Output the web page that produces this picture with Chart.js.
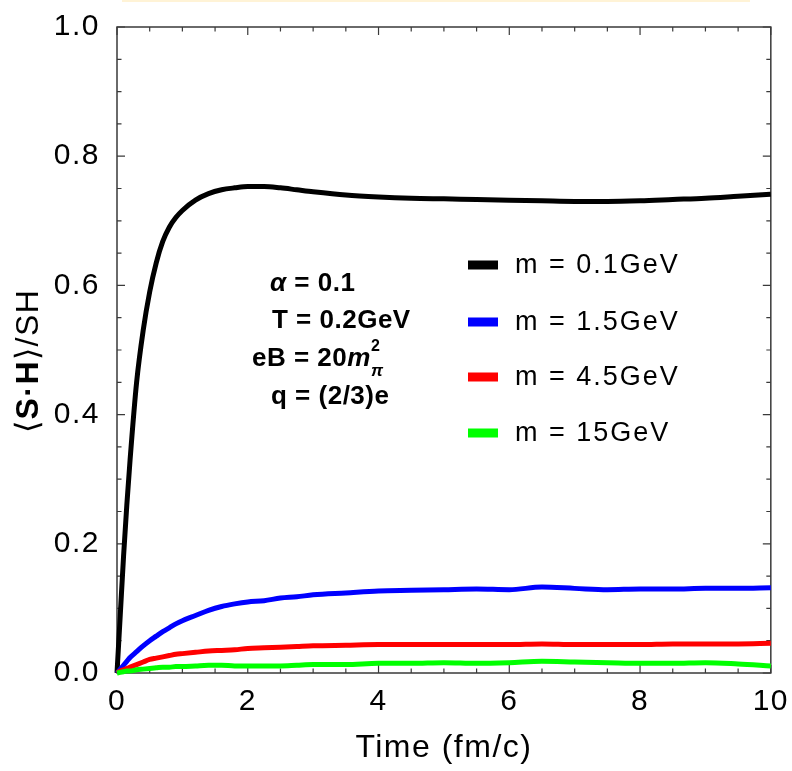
<!DOCTYPE html>
<html>
<head>
<meta charset="utf-8">
<script src="https://cdn.jsdelivr.net/npm/chart.js@4.4.0/dist/chart.umd.min.js"></script>
<style>
    html, body { margin: 0; padding: 0; background: #ffffff; }
    #wrap { width: 792px; height: 771px; }
</style>
</head>
<body>
<div id="wrap"><canvas id="spinChart" width="792" height="771"></canvas></div>
<script>
// time axis (fm/c)
const times = [0, 0.05, 0.1, 0.15, 0.2, 0.3, 0.4, 0.5, 0.6, 0.7, 0.8, 0.9, 1.0, 1.2, 1.4, 1.6, 1.8, 2.0,
    2.25, 2.5, 2.75, 3.0, 3.5, 4.0, 4.5, 5.0, 5.5, 6.0, 6.5, 7.0, 7.5, 8.0, 8.5, 9.0, 9.5, 10.0];

// <S.H>/SH for each mass
const m01Values = [0, 0.09, 0.18, 0.26, 0.33, 0.45, 0.53, 0.59, 0.635, 0.668, 0.69, 0.705, 0.716, 0.732, 0.742, 0.748, 0.751, 0.753,
    0.753, 0.751, 0.748, 0.745, 0.740, 0.737, 0.735, 0.734, 0.733, 0.732, 0.731, 0.730, 0.730, 0.731, 0.733, 0.735, 0.738, 0.741];
const m15Values = [0, 0.006, 0.012, 0.018, 0.024, 0.033, 0.042, 0.050, 0.057, 0.064, 0.070, 0.076, 0.081, 0.089, 0.097, 0.103, 0.107, 0.110,
    0.112, 0.116, 0.118, 0.121, 0.124, 0.127, 0.128, 0.129, 0.130, 0.129, 0.133, 0.131, 0.129, 0.130, 0.130, 0.131, 0.131, 0.132];
const m45Values = [0, 0.003, 0.005, 0.007, 0.009, 0.013, 0.017, 0.021, 0.023, 0.025, 0.027, 0.029, 0.030, 0.032, 0.034, 0.035, 0.036, 0.038,
    0.039, 0.040, 0.041, 0.042, 0.043, 0.044, 0.044, 0.044, 0.044, 0.044, 0.045, 0.044, 0.044, 0.044, 0.045, 0.045, 0.045, 0.046];
const m150Values = [0, 0.001, 0.002, 0.003, 0.003, 0.005, 0.006, 0.007, 0.008, 0.009, 0.009, 0.010, 0.010, 0.011, 0.012, 0.012, 0.011, 0.011,
    0.011, 0.011, 0.012, 0.013, 0.013, 0.015, 0.015, 0.016, 0.015, 0.016, 0.018, 0.017, 0.016, 0.015, 0.015, 0.016, 0.014, 0.011];

const seriesLabels = ['m = 0.1GeV', 'm = 1.5GeV', 'm = 4.5GeV', 'm = 15GeV'];
const seriesColors = ['#000000', '#0000ff', '#ff0000', '#00ff00'];
const seriesValues = [m01Values, m15Values, m45Values, m150Values];

// parameter box text
const paramLines = [' = 0.1', 'T = 0.2GeV', 'eB = 20', 'q = (2/3)e'];

const xTickLabels = ['0', '2', '4', '6', '8', '10'];
const yTickLabels = ['0.0', '0.2', '0.4', '0.6', '0.8', '1.0'];

const FONT = "'Liberation Sans', Arial, sans-serif";

// build datasets
const datasets = seriesValues.map((vals, i) => ({
    label: seriesLabels[i],
    data: times.map((t, k) => ({ x: t, y: vals[k] })),
    borderColor: seriesColors[i],
    backgroundColor: seriesColors[i],
    borderWidth: 5,
    pointRadius: 0,
    fill: false,
    cubicInterpolationMode: 'monotone',
    clip: 8,
    order: 3 - i
}));

// frame + inward ticks (Mathematica style)
const framePlugin = {
    id: 'frame',
    beforeUpdate(chart) {
        chart.ctx.letterSpacing = '1.5px';
    },
    beforeDatasetsDraw(chart) {
        const ctx = chart.ctx;
        const a = chart.chartArea;
        const xs = chart.scales.x, ys = chart.scales.y;
        ctx.save();
        ctx.strokeStyle = '#3a3a3a';
        ctx.lineWidth = 1.5;
        ctx.strokeRect(a.left, a.top, a.right - a.left, a.bottom - a.top);
        ctx.lineWidth = 1.2;
        ctx.beginPath();
        for (let v = 0; v <= 10.001; v += 0.5) {
            const px = xs.getPixelForValue(v);
            const len = (Math.abs(v / 2 - Math.round(v / 2)) < 0.01) ? 8 : 4.5;
            ctx.moveTo(px, a.bottom); ctx.lineTo(px, a.bottom - len);
            ctx.moveTo(px, a.top); ctx.lineTo(px, a.top + len);
        }
        for (let v = 0; v <= 1.0001; v += 0.05) {
            const py = ys.getPixelForValue(v);
            const len = (Math.abs(v / 0.2 - Math.round(v / 0.2)) < 0.01) ? 8 : 4.5;
            ctx.moveTo(a.left, py); ctx.lineTo(a.left + len, py);
            ctx.moveTo(a.right, py); ctx.lineTo(a.right - len, py);
        }
        ctx.stroke();
        ctx.restore();
    },
    afterDraw(chart) {
        const ctx = chart.ctx;
        ctx.save();

        // faint strip along the top edge
        ctx.fillStyle = '#fff3d6';
        ctx.fillRect(122, 0, 628, 2);

        // legend
        ctx.letterSpacing = '2px';
        ctx.font = '27px ' + FONT;
        ctx.textBaseline = 'middle';
        ctx.textAlign = 'left';
        const legendY = [265, 322, 377, 433];
        chart.data.datasets.forEach((ds, i) => {
            ctx.fillStyle = ds.borderColor;
            ctx.fillRect(468, legendY[i] - 4.5, 30, 9);
            ctx.fillStyle = '#000';
            ctx.fillText(ds.label, 515, legendY[i] + 1);
        });

        // parameters
        ctx.letterSpacing = '0.5px';
        ctx.font = 'italic bold 26px ' + FONT;
        ctx.fillText('α', 270, 284);
        const aw = ctx.measureText('α').width;
        ctx.font = 'bold 26px ' + FONT;
        ctx.fillText(paramLines[0], 270 + aw, 284);
        ctx.fillText(paramLines[1], 272, 321);
        ctx.fillText(paramLines[3], 271, 397);
        ctx.fillText(paramLines[2], 252, 359);
        const w = ctx.measureText(paramLines[2]).width;
        ctx.font = 'italic bold 26px ' + FONT;
        ctx.fillText('m', 252 + w, 359);
        const mw = ctx.measureText('m').width;
        ctx.font = 'bold 16px ' + FONT;
        ctx.fillText('2', 252 + w + mw, 347);
        ctx.font = 'italic bold 17px ' + FONT;
        ctx.fillText('π', 252 + w + mw, 371);

        // y-axis title, mixed weight
        ctx.translate(38, 433);
        ctx.rotate(-Math.PI / 2);
        ctx.textBaseline = 'alphabetic';
        ctx.letterSpacing = '1.5px';
        const parts = [['⟨', '32px ' + FONT], ['S·H', 'bold 32px ' + FONT], ['⟩/SH', '32px ' + FONT]];
        let x = 0;
        parts.forEach(p => {
            ctx.font = p[1];
            ctx.fillText(p[0], x, 0);
            x += ctx.measureText(p[0]).width;
        });
        ctx.restore();
    }
};

const ctx = document.getElementById('spinChart').getContext('2d');
new Chart(ctx, {
    type: 'line',
    data: { datasets: datasets },
    options: {
        responsive: false,
        animation: false,
        layout: { padding: { left: 0, right: 20, top: 20, bottom: 0 } },
        scales: {
            x: {
                type: 'linear',
                min: 0,
                max: 10,
                border: { display: false },
                grid: { display: false },
                ticks: {
                    stepSize: 2,
                    padding: 3,
                    color: '#000',
                    font: { family: FONT, size: 30 },
                    callback: function(value) {
                        return xTickLabels[Math.round(value / 2)];
                    }
                },
                title: {
                    display: true,
                    text: 'Time (fm/c)',
                    color: '#000',
                    font: { family: FONT, size: 32 },
                    padding: { top: 0, bottom: 4 }
                },
                afterFit: function(scale) { scale.height = 98; }
            },
            y: {
                min: 0,
                max: 1,
                border: { display: false },
                grid: { display: false },
                ticks: {
                    stepSize: 0.2,
                    padding: 9,
                    color: '#000',
                    font: { family: FONT, size: 30 },
                    callback: function(value) {
                        return yTickLabels[Math.round(value / 0.2)];
                    }
                },
                afterFit: function(scale) { scale.width = 117; }
            }
        },
        plugins: {
            legend: { display: false },
            tooltip: { enabled: false }
        }
    },
    plugins: [framePlugin]
});
</script>
</body>
</html>
